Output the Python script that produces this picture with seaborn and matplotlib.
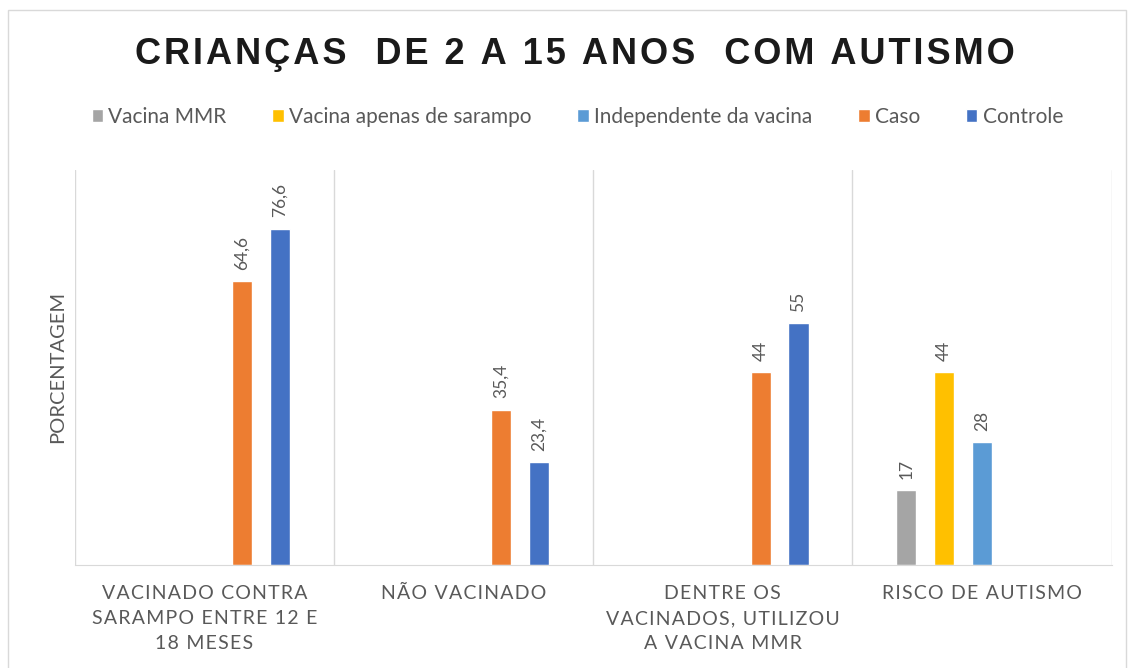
import pandas as pd
import matplotlib
matplotlib.use("Agg")
import matplotlib.pyplot as plt
import seaborn as sns
from matplotlib.patches import Rectangle

# Data
categories = [
    "VACINADO CONTRA\nSARAMPO ENTRE 12 E\n18 MESES",
    "NÃO VACINADO",
    "DENTRE OS\nVACINADOS, UTILIZOU\nA VACINA MMR",
    "RISCO DE AUTISMO",
]
series = ["Vacina MMR", "Vacina apenas de sarampo", "Independente da vacina", "Caso", "Controle"]
colors = ["#A5A5A5", "#FFC000", "#5B9BD5", "#ED7D31", "#4472C4"]

caso = [64.6, 35.4, 44, None]
controle = [76.6, 23.4, 55, None]
vacina_mmr = [None, None, None, 17]
vacina_sarampo = [None, None, None, 44]
independente = [None, None, None, 28]

rows = []
for name, vals in zip(series, [vacina_mmr, vacina_sarampo, independente, caso, controle]):
    for cat, v in zip(categories, vals):
        if v is not None:
            rows.append({"categoria": cat, "serie": name, "valor": v})
df = pd.DataFrame(rows)


def spaced(s):
    # mimic the letter spacing of the original with hair spaces
    return "\n".join("\u200a".join(line) for line in s.split("\n"))


sns.set_style("white")
plt.rcParams["font.family"] = ["Lato", "DejaVu Sans"]
grey = "#595959"

fig = plt.figure(figsize=(11.32, 6.68), dpi=100)
ax = fig.add_axes([0.066, 0.154, 0.916, 0.592])

sns.barplot(data=df, x="categoria", y="valor", hue="serie", order=categories,
            hue_order=series, palette=colors, width=0.73, gap=0.47,
            saturation=1, ax=ax, legend=True)

for cont in ax.containers:
    ax.bar_label(cont, fmt=lambda v: f"{v:g}".replace(".", ","), rotation=90,
                 padding=8, color=grey, fontsize=12.5)

ax.set_ylim(0, 90)
ax.set_xlim(-0.5, 3.5)
ax.set_yticks([])
ax.set_xlabel("")
ax.set_ylabel("PORCENTAGEM", color=grey, fontsize=14.5, labelpad=6)
ax.set_xticks(range(len(categories)))
ax.set_xticklabels([spaced(c) for c in categories], linespacing=1.6)
ax.tick_params(axis="x", length=0, pad=14, colors=grey, labelsize=14)
for s in ["top", "right", "left"]:
    ax.spines[s].set_visible(False)
ax.spines["bottom"].set_color("#D9D9D9")
for x in [-0.5, 0.5, 1.5, 2.5, 3.5]:
    ax.axvline(x, color="#D9D9D9", lw=1, zorder=0)

handles, labels = ax.get_legend_handles_labels()
ax.legend_.remove()
fig.legend(handles, labels, loc="center", bbox_to_anchor=(0.51, 0.825), ncol=5,
           frameon=False, fontsize=15, handlelength=0.55, handleheight=0.55,
           handletextpad=0.25, columnspacing=2.2, labelcolor=grey)

title = "CRIANÇAS  DE 2 A 15 ANOS  COM AUTISMO"
fig.text(0.508, 0.918, "\u200a".join(title), ha="center", va="center",
         fontsize=26, fontweight="bold", family=["Liberation Sans", "DejaVu Sans"],
         color="#1a1a1a")

fig.patches.append(Rectangle((0.007, -0.01), 0.988, 0.995, transform=fig.transFigure,
                             fill=False, edgecolor="#D9D9D9", lw=1))

fig.savefig("out.png", dpi=100)
